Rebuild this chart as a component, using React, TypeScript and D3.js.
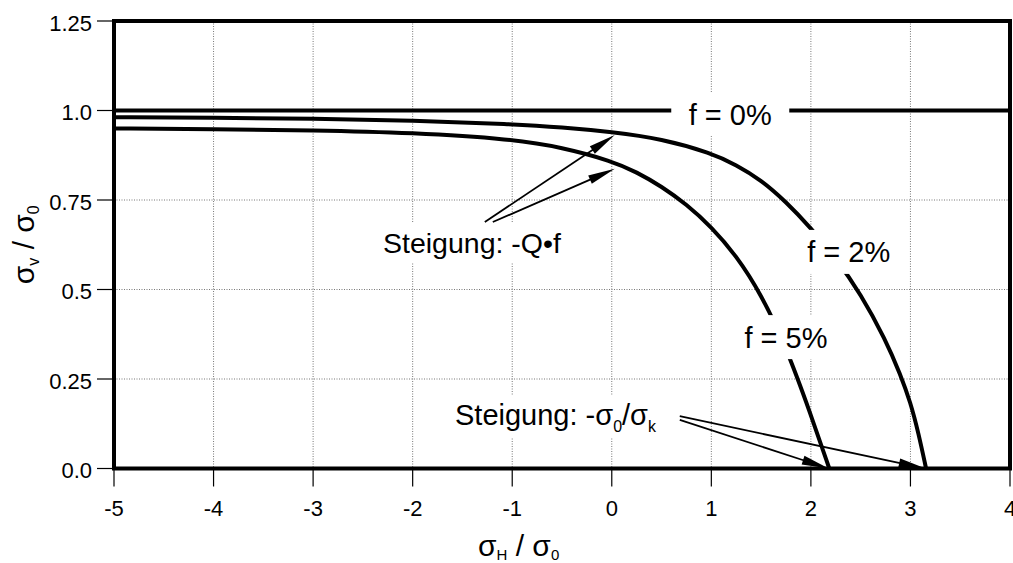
import React from "react";
import * as d3 from "d3";

// ---- data ----
const xTicks = [-5, -4, -3, -2, -1, 0, 1, 2, 3, 4];
const xTickLabels = ["-5", "-4", "-3", "-2", "-1", "0", "1", "2", "3", "4"];
const yTicks = [0, 0.25, 0.5, 0.75, 1.0, 1.25];
const yTickLabels = ["0.0", "0.25", "0.5", "0.75", "1.0", "1.25"];

const f0: [number, number][] = [[-5, 1.0], [4, 1.0]];
const f2: [number, number][] = [
  [-5, 0.981], [-4, 0.98], [-3, 0.977], [-2, 0.972], [-1, 0.962], [-0.5, 0.953],
  [0, 0.94], [0.5, 0.921], [1, 0.881], [1.25, 0.848], [1.5, 0.806], [1.75, 0.745],
  [2, 0.672], [2.25, 0.588], [2.5, 0.488], [2.75, 0.36], [2.9, 0.262], [3, 0.185],
  [3.08, 0.1], [3.157, 0],
];
const f5: [number, number][] = [
  [-5, 0.95], [-4, 0.948], [-3, 0.945], [-2, 0.938], [-1, 0.92], [-0.5, 0.897],
  [0, 0.859], [0.25, 0.828], [0.5, 0.788], [0.75, 0.738], [1, 0.675], [1.25, 0.595],
  [1.5, 0.487], [1.75, 0.34], [2, 0.15], [2.185, 0],
];

// curve labels (center in data units, white box width in px)
const curveLabels: { text: string; x: number; y: number; w: number }[] = [
  { text: "f = 0%", x: 1.19, y: 0.99, w: 118 },
  { text: "f = 2%", x: 2.38, y: 0.605, w: 98 },
  { text: "f = 5%", x: 1.75, y: 0.367, w: 98 },
];

// arrows: from -> to (data units)
const arrowsQf: [number, number, number, number][] = [
  [-1.275, 0.6885, 0.03, 0.9316],
  [-1.195, 0.6885, 0.03, 0.837],
];
const arrowsSk: [number, number, number, number][] = [
  [0.683, 0.146, 3.153, 0.0],
  [0.683, 0.136, 2.179, 0.0],
];

const W = 1013;
const H = 563;
const L = 114, R = 1010, T = 21, B = 468.5;
const FONT = "'Liberation Sans', Arial, Helvetica, sans-serif";

function Arrow({ x1, y1, x2, y2 }: { x1: number; y1: number; x2: number; y2: number }) {
  const dx = x2 - x1, dy = y2 - y1;
  const len = Math.hypot(dx, dy);
  const ux = dx / len, uy = dy / len;
  const hl = 27, hw = 4.5;
  const bx = x2 - ux * hl, by = y2 - uy * hl;
  const pts = [
    [x2, y2],
    [bx - uy * hw, by + ux * hw],
    [bx + uy * hw, by - ux * hw],
  ];
  return (
    <g>
      <line x1={x1} y1={y1} x2={bx + ux * 2} y2={by + uy * 2} stroke="#000" strokeWidth={1.8} />
      <polygon points={pts.map((p) => p.join(",")).join(" ")} fill="#000" />
    </g>
  );
}

export default function App() {
  const x = d3.scaleLinear().domain([-5, 4]).range([L, R]);
  const y = d3.scaleLinear().domain([0, 1.25]).range([B, T]);
  const line = d3
    .line<[number, number]>()
    .x((d) => x(d[0]))
    .y((d) => y(d[1]))
    .curve(d3.curveBasis);

  return (
    <svg
      width={W}
      height={H}
      style={{ position: "absolute", left: 0, top: 0, background: "#fff" }}
      fontFamily={FONT}
    >
      <rect x={0} y={0} width={W} height={H} fill="#fff" />
      {/* grid */}
      {xTicks.slice(1, -1).map((t) => (
        <line key={"gx" + t} x1={x(t)} x2={x(t)} y1={T} y2={B} stroke="#777" strokeWidth={1} strokeDasharray="1,1.5" />
      ))}
      {yTicks.slice(1, -1).map((t) => (
        <line key={"gy" + t} x1={L} x2={R} y1={y(t)} y2={y(t)} stroke="#777" strokeWidth={1} strokeDasharray="1,1.5" />
      ))}
      {/* ticks */}
      {xTicks.map((t, i) => (
        <g key={"xt" + t}>
          <line x1={x(t)} x2={x(t)} y1={B} y2={B + 18} stroke="#000" strokeWidth={1.2} />
          <text x={x(t)} y={B + 47.5} fontSize={22} textAnchor="middle">{xTickLabels[i]}</text>
        </g>
      ))}
      {yTicks.map((t, i) => (
        <g key={"yt" + t}>
          <line x1={L - 17} x2={L} y1={y(t)} y2={y(t)} stroke="#000" strokeWidth={1.2} />
          <text x={92} y={y(t) + 9.5} fontSize={22} textAnchor="end">{yTickLabels[i]}</text>
        </g>
      ))}
      {/* curves */}
      {[f0, f2, f5].map((d, i) => (
        <path key={"c" + i} d={line(d) || ""} fill="none" stroke="#000" strokeWidth={4} />
      ))}
      {/* curve labels with white background */}
      {curveLabels.map((c) => (
        <g key={c.text}>
          <rect x={x(c.x) - c.w / 2} y={y(c.y) - 22} width={c.w} height={44} fill="#fff" />
          <text x={x(c.x)} y={y(c.y) + 10.5} fontSize={29} textAnchor="middle">{c.text}</text>
        </g>
      ))}
      {/* Steigung -Q f */}
      <rect x={375} y={222} width={195} height={41} fill="#fff" />
      <text x={383} y={253} fontSize={28.5}>Steigung: -Q•f</text>
      {arrowsQf.map((a, i) => (
        <Arrow key={"aq" + i} x1={x(a[0])} y1={y(a[1])} x2={x(a[2])} y2={y(a[3])} />
      ))}
      {/* Steigung -s0/sk */}
      <rect x={450} y={395} width={222} height={42} fill="#fff" />
      <text x={455} y={425} fontSize={29}>
        Steigung: -σ<tspan fontSize={16} dy={7}>0</tspan>
        <tspan dy={-7}>/σ</tspan>
        <tspan fontSize={16} dy={7}>k</tspan>
      </text>
      {arrowsSk.map((a, i) => (
        <Arrow key={"as" + i} x1={x(a[0])} y1={y(a[1])} x2={x(a[2])} y2={y(a[3])} />
      ))}
      {/* frame */}
      <rect x={L} y={T} width={R - L} height={B - T} fill="none" stroke="#000" strokeWidth={4} />
      {/* axis titles */}
      <text x={478} y={556} fontSize={30}>
        σ<tspan fontSize={15} dy={4}>H</tspan>
        <tspan dy={-4}> / σ</tspan>
        <tspan fontSize={15} dy={4}>0</tspan>
      </text>
      <text transform={`translate(34,${(T + B) / 2}) rotate(-90)`} fontSize={30} textAnchor="middle">
        σ<tspan fontSize={16} dy={5}>v</tspan>
        <tspan dy={-5}> / σ</tspan>
        <tspan fontSize={16} dy={5}>0</tspan>
      </text>
    </svg>
  );
}
